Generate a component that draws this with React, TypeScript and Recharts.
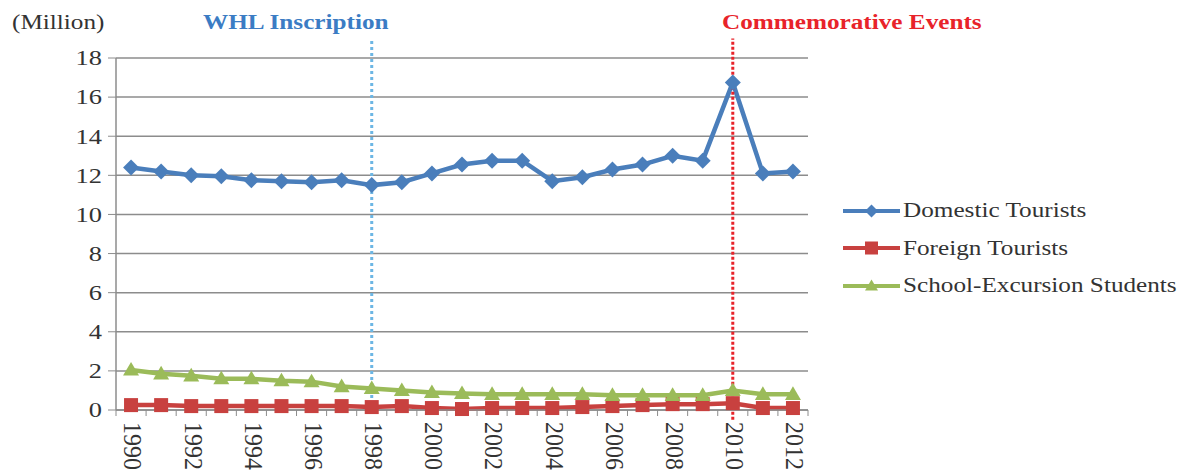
import React from "react";
import {
  LineChart,
  Line,
  XAxis,
  YAxis,
  CartesianGrid,
  ReferenceLine,
  Legend,
} from "recharts";

const years = [
  "1990", "1991", "1992", "1993", "1994", "1995", "1996", "1997", "1998", "1999", "2000", "2001",
  "2002", "2003", "2004", "2005", "2006", "2007", "2008", "2009", "2010", "2011", "2012",
];

// million visitors
const domestic = [
  12.4, 12.2, 12.0, 11.95, 11.75, 11.7, 11.65, 11.75, 11.5, 11.65, 12.1, 12.55,
  12.75, 12.75, 11.7, 11.9, 12.3, 12.55, 13.0, 12.75, 16.75, 12.1, 12.2,
];
const foreign = [
  0.25, 0.25, 0.2, 0.2, 0.2, 0.2, 0.2, 0.2, 0.15, 0.2, 0.1, 0.05,
  0.1, 0.1, 0.1, 0.15, 0.2, 0.25, 0.3, 0.3, 0.35, 0.1, 0.1,
];
const school = [
  2.05, 1.85, 1.75, 1.6, 1.6, 1.5, 1.45, 1.2, 1.1, 1.0, 0.9, 0.85,
  0.8, 0.8, 0.8, 0.8, 0.75, 0.75, 0.75, 0.75, 1.0, 0.8, 0.8,
];
const yTicks = [0, 2, 4, 6, 8, 10, 12, 14, 16, 18];

const seriesNames = {
  domestic: "Domestic Tourists",
  foreign: "Foreign Tourists",
  school: "School-Excursion Students",
};
const whlYear = "1998";
const eventYear = "2010";

const data = years.map((year, i) => ({
  year,
  domestic: domestic[i],
  foreign: foreign[i],
  school: school[i],
}));

const W = 1199;
const H = 470;
const PLOT_LEFT = 116;
const PLOT_RIGHT = 808;
const BAND = (PLOT_RIGHT - PLOT_LEFT) / years.length;
const FONT = "Liberation Serif, Times New Roman, serif";
const STRETCH = 1.26;

const BLUE = "#4a7ebb";
const RED = "#c8413f";
const GREEN = "#9bbb59";
const GRID = "#8c8c8c";

const Diamond = ({ cx, cy, color, r = 8 }: any) => (
  <polygon
    points={`${cx},${cy - r} ${cx + r},${cy} ${cx},${cy + r} ${cx - r},${cy}`}
    fill={color}
  />
);
const Square = ({ cx, cy, color, r = 7 }: any) => (
  <rect x={cx - r} y={cy - r} width={r * 2} height={r * 2} fill={color} />
);
const Triangle = ({ cx, cy, color, r = 8 }: any) => (
  <polygon
    points={`${cx},${cy - r} ${cx + r},${cy + r * 0.7} ${cx - r},${cy + r * 0.7}`}
    fill={color}
  />
);

const markers: Record<string, any> = { domestic: Diamond, foreign: Square, school: Triangle };

const XTick = (props: any) => {
  const { x, y, payload, index } = props;
  return (
    <g>
      <line x1={x - BAND / 2} x2={x - BAND / 2} y1={y} y2={y + 6} stroke={GRID} />
      {index === years.length - 1 && (
        <line x1={x + BAND / 2} x2={x + BAND / 2} y1={y} y2={y + 6} stroke={GRID} />
      )}
      {index % 2 === 0 && (
        <text
          transform={`translate(${x + 2},${y + 12}) rotate(90) scale(1.2,${STRETCH})`}
          textAnchor="start"
          dominantBaseline="central"
          fontFamily={FONT}
          fontSize={20}
          fill="#333"
        >
          {payload.value}
        </text>
      )}
    </g>
  );
};

const YTick = (props: any) => {
  const { x, y, payload } = props;
  return (
    <text
      transform={`translate(${x},${y}) scale(${STRETCH},1)`}
      textAnchor="end"
      dy="0.35em"
      fontFamily={FONT}
      fontSize={21}
      fill="#333"
    >
      {payload.value}
    </text>
  );
};

const renderLegend = (props: any) => {
  const { payload } = props;
  return (
    <div>
      {payload.map((entry: any) => {
        const M = markers[entry.dataKey];
        return (
          <div
            key={entry.dataKey}
            style={{ display: "flex", alignItems: "center", height: 37.5 }}
          >
            <svg width={60} height={20} style={{ flex: "none" }}>
              <line x1={0} x2={57} y1={10} y2={10} stroke={entry.color} strokeWidth={4} />
              <M cx={28.5} cy={10} color={entry.color} r={6.5} />
            </svg>
            <span
              style={{
                fontFamily: FONT,
                fontSize: 20,
                color: "#333",
                whiteSpace: "nowrap",
                display: "inline-block",
                transform: `scaleX(${STRETCH})`,
                transformOrigin: "left center",
              }}
            >
              {entry.value}
            </span>
          </div>
        );
      })}
    </div>
  );
};

const titleStyle = (left: number, color: string, bold: boolean): React.CSSProperties => ({
  position: "absolute",
  left,
  top: 11,
  fontFamily: FONT,
  fontSize: 20,
  lineHeight: "22px",
  fontWeight: bold ? "bold" : "normal",
  color,
  whiteSpace: "nowrap",
  transform: `scaleX(${STRETCH})`,
  transformOrigin: "left center",
});

export default function App() {
  return (
    <div
      style={{
        position: "absolute",
        left: 0,
        top: 0,
        width: W,
        height: H,
        background: "#fff",
        overflow: "hidden",
      }}
    >
      <div style={titleStyle(12, "#333", false)}>(Million)</div>
      <div style={titleStyle(203, "#3b7cc4", true)}>WHL Inscription</div>
      <div style={titleStyle(722, "#e8232a", true)}>Commemorative Events</div>

      <LineChart
        width={W}
        height={H}
        data={data}
        margin={{ top: 58, right: W - PLOT_RIGHT, bottom: 0, left: 0 }}
      >
        <CartesianGrid vertical={false} stroke={GRID} strokeWidth={1.5} />
        <XAxis
          dataKey="year"
          interval={0}
          height={60}
          tickSize={0}
          tickMargin={0}
          tickLine={false}
          axisLine={{ stroke: GRID, strokeWidth: 1.5 }}
          padding={{ left: BAND / 2, right: BAND / 2 }}
          tick={<XTick />}
        />
        <YAxis
          domain={[0, 18]}
          ticks={yTicks}
          interval={0}
          width={PLOT_LEFT}
          tickSize={8}
          tickMargin={6}
          axisLine={{ stroke: GRID, strokeWidth: 1.5 }}
          tickLine={{ stroke: GRID }}
          tick={<YTick />}
        />
        <Line
          type="linear"
          dataKey="domestic"
          name={seriesNames.domestic}
          stroke={BLUE}
          strokeWidth={4.5}
          dot={(p: any) => <Diamond key={`d${p.index}`} cx={p.cx} cy={p.cy} color={BLUE} />}
          activeDot={false}
          isAnimationActive={false}
        />
        <Line
          type="linear"
          dataKey="foreign"
          name={seriesNames.foreign}
          stroke={RED}
          strokeWidth={4.5}
          dot={(p: any) => <Square key={`f${p.index}`} cx={p.cx} cy={p.cy} color={RED} />}
          activeDot={false}
          isAnimationActive={false}
        />
        <Line
          type="linear"
          dataKey="school"
          name={seriesNames.school}
          stroke={GREEN}
          strokeWidth={4.5}
          dot={(p: any) => <Triangle key={`s${p.index}`} cx={p.cx} cy={p.cy} color={GREEN} />}
          activeDot={false}
          isAnimationActive={false}
        />
        <ReferenceLine
          segment={[{ x: whlYear, y: 0 }, { x: whlYear, y: 19 }]}
          ifOverflow="visible"
          stroke="#6cb6e4"
          strokeWidth={3}
          strokeDasharray="3 3"
        />
        <ReferenceLine
          segment={[{ x: eventYear, y: -0.5 }, { x: eventYear, y: 19 }]}
          ifOverflow="visible"
          stroke="#e8232a"
          strokeWidth={3}
          strokeDasharray="3 2"
        />
        <Legend
          layout="horizontal"
          verticalAlign="middle"
          align="center"
          content={renderLegend}
          wrapperStyle={{ left: 843, top: 192, width: 356 }}
        />
      </LineChart>
    </div>
  );
}
